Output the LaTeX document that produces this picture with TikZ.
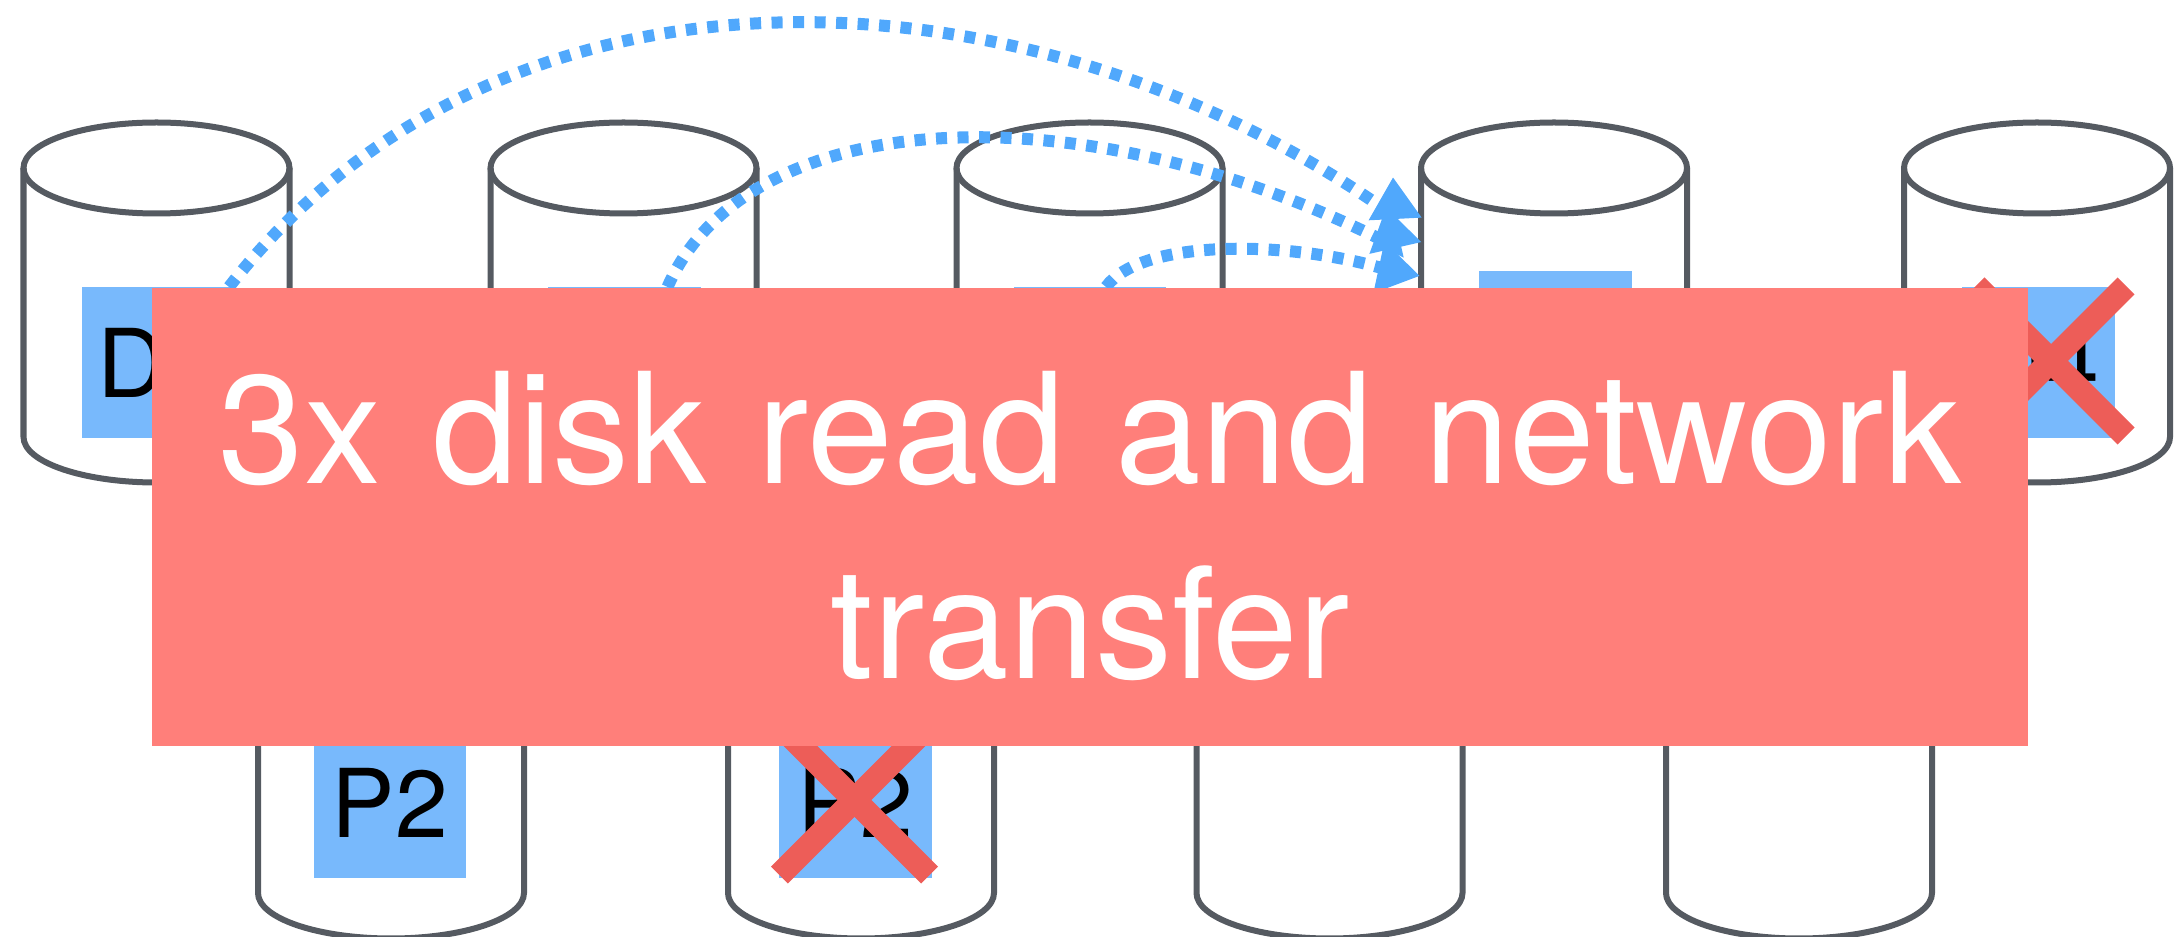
\documentclass[tikz,border=0pt]{standalone}
\usepackage{fontspec}
\setmainfont{TeX Gyre Heros}
\usetikzlibrary{arrows.meta,shapes.misc}
\definecolor{diskgray}{RGB}{85,90,97}
\definecolor{blockblue}{RGB}{120,185,252}
\definecolor{flowblue}{RGB}{80,168,252}
\definecolor{bannerred}{RGB}{255,127,122}
\definecolor{crossred}{RGB}{237,93,88}
\tikzset{
  disk/.pic={
    \draw[draw=diskgray, line width=0.06cm] (0,0) ellipse [x radius=133, y radius=45.5];
    \draw[draw=diskgray, line width=0.06cm] (-133,0) -- (-133,269)
      arc [start angle=180, end angle=0, x radius=133, y radius=45.5] -- (133,0);
  },
  block/.style={fill=blockblue, font=\fontsize{27pt}{27pt}\selectfont,
                minimum width=1.52cm, minimum height=1.51cm, inner sep=0pt, outer sep=0pt},
  crossmark/.style={draw=crossred, line width=0.24cm, cross out,
                    minimum width=1.5cm, minimum height=1.5cm, inner sep=0pt, outer sep=0pt},
  flow/.style={draw=flowblue, line width=0.12cm, dash pattern=on 0.11cm off 0.105cm,
               -{Triangle[length=0.42cm, width=0.5cm]}},
  banner/.style={fill=bannerred, minimum width=18.74cm, minimum height=4.58cm,
                 inner sep=0pt, outer sep=0pt},
  bannertext/.style={text=white, font=\fontsize{43.8pt}{55.2pt}\selectfont,
                     text width=18.4cm, align=center, inner sep=0pt},
}
\begin{document}
\begin{tikzpicture}[x=0.01cm, y=-0.01cm]
  \useasboundingbox (0,0) rectangle (2175,937);
  % Top row
  \pic (diskA) at (156.5,168) {disk};
  \pic (diskB) at (623.5,168) {disk};
  \pic (diskC) at (1089.5,168) {disk};
  \pic (diskD) at (1554,168) {disk};
  \pic (diskE) at (2037,168) {disk};
  % Bottom row
  \pic (diskF) at (391,624) {disk};
  \pic (diskG) at (861,624) {disk};
  \pic (diskH) at (1329.5,624) {disk};
  \pic (diskI) at (1799,624) {disk};
  % Blocks
  \node[block] (blockA) at (158,362.5) {D1};
  \node[block] (blockB) at (624.5,362.5) {};
  \node[block] (blockC) at (1090,362.5) {};
  \node[block] (blockD) at (1555.5,346.5) {};
  \node[block] (blockE) at (2038.5,362.5) {D4};
  \node[block] (blockF) at (390,802.5) {P2};
  \node[block] (blockG) at (855.5,802.5) {P2};
  % Crosses
  \node[crossmark] (crossE) at (2051,361) {};
  \node[crossmark] (crossG) at (854.5,800) {};
  % Arrow ends
  \coordinate (baseA) at (1395,216.5);
  \coordinate (tipA) at (1393,177);
  \coordinate (baseB) at (1395,246.5);
  \coordinate (tipB) at (1386,207);
  \coordinate (baseC) at (1378,267);
  \coordinate (tipC) at (1420,276);
  % Transfers
  \draw[flow] ([xshift=0.71cm]blockA.north) .. controls (505,-68) and (1035,-40) .. (baseA) -- (tipA);
  \draw[flow] ([xshift=0.43cm]blockB.north) .. controls (750,100) and (1090,90) .. (baseB) -- (tipB);
  \draw[flow] ([xshift=0.16cm]blockC.north) .. controls (1140,240) and (1280,240) .. (baseC) -- (tipC);
  % Banner
  \node[banner] (note) at (1090,517) {};
  \node[bannertext] (noteText) at (1090,526) {3x disk read and network\\transfer};
\end{tikzpicture}
\end{document}
